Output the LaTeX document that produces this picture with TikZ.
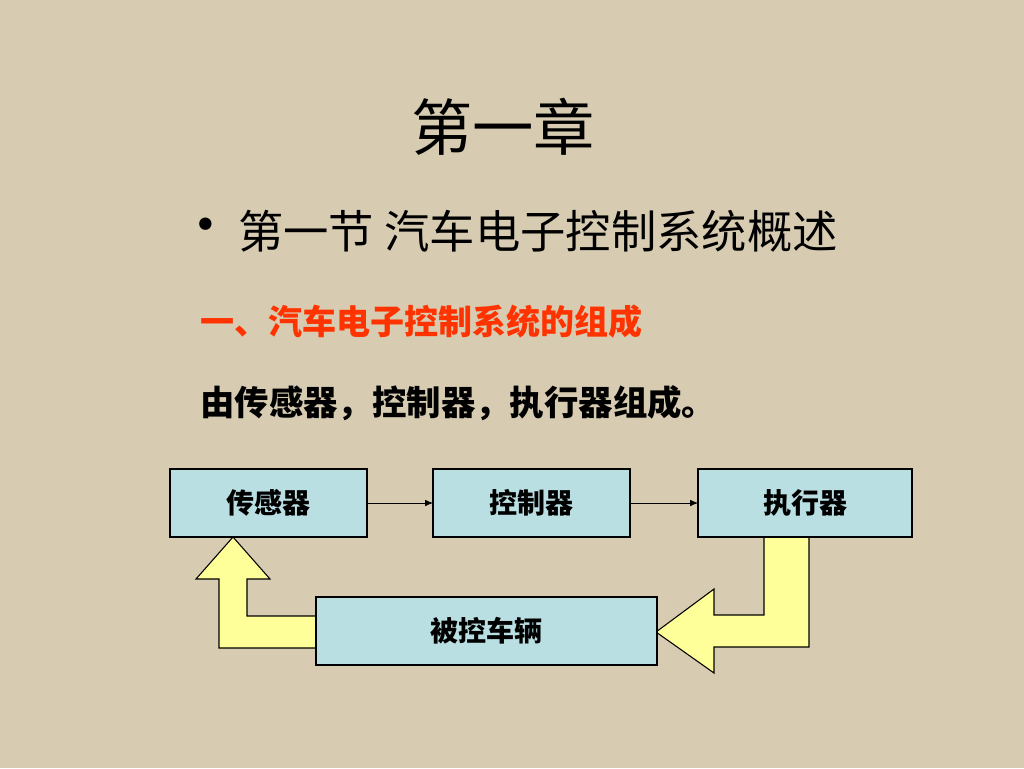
\documentclass[tikz,border=0pt]{standalone}
\usepackage{fontspec}
\setmainfont{Noto Sans CJK SC}
\usepackage{tikz}
\usetikzlibrary{positioning,arrows.meta}
\definecolor{paper}{HTML}{D7CCB2}
\definecolor{cyanbox}{HTML}{B9DFE3}
\definecolor{fat}{HTML}{FFFF99}
\definecolor{headred}{HTML}{FF3300}
\tikzset{
  blk/.style={rectangle,draw=black,fill=cyanbox,line width=0.8pt,inner sep=0pt,
    outer sep=0pt,minimum height=51pt,font=\fontsize{21}{24}\selectfont\bfseries},
  fatarrow/.style={draw=black,fill=fat,line width=0.8pt,line join=miter},
  fl/.style={-{Latex[length=6pt,width=5pt]},draw=black,line width=0.6pt},
}
\begin{document}
\begin{tikzpicture}[x=0.75pt,y=-0.75pt]
  \fill[paper] (0,0) rectangle (1024,768);
  \useasboundingbox (0,0) rectangle (1024,768);
  \node (title) at (503,127) {\fontsize{46}{50}\selectfont 第一章};
  \node (bul) at (206,232) {\fontsize{44}{48}\selectfont •};
  \node[anchor=west,inner sep=0pt] (sec) at (238,231) {\fontsize{34}{38}\selectfont 第一节 汽车电子控制系统概述};
  \node[anchor=west,inner sep=0pt,text=headred] (part) at (200,322)
    {\fontsize{25.5}{30}\selectfont\bfseries 一、汽车电子控制系统的组成};
  \node[anchor=west,inner sep=0pt] (desc) at (200,403)
    {\fontsize{25.8}{30}\selectfont\bfseries 由传感器，控制器，执行器组成。};
  \draw[fatarrow] (233,537) -- (270,579) -- (247,579) -- (247,616) -- (330,616)
    -- (330,648) -- (219,648) -- (219,579) -- (196,579) -- cycle;
  \draw[fatarrow] (764,537) -- (764,615) -- (714,615) -- (714,589) -- (656,632)
    -- (714,673) -- (714,647) -- (809,647) -- (809,537) -- cycle;
  \node[blk,minimum width=147.75pt] (sens) at (268.5,503) {传感器};
  \node[blk,minimum width=147.75pt,right=49.5pt of sens] (ctrl) {控制器};
  \node[blk,minimum width=160.5pt,right=51pt of ctrl] (act) {执行器};
  \node[blk,minimum width=255.75pt] (veh) at (486.5,631) {被控车辆};
  \draw[fl] (sens)--(ctrl); \draw[fl] (ctrl)--(act);
\end{tikzpicture}
\end{document}
